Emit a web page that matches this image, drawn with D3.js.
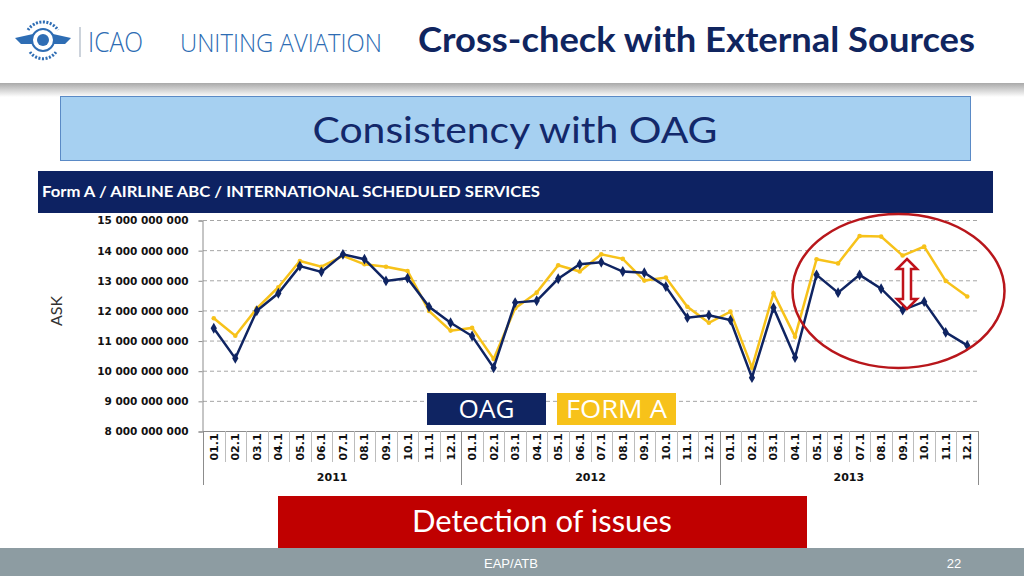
<!DOCTYPE html>
<html><head><meta charset="utf-8">
<script src="https://cdn.jsdelivr.net/npm/d3@7"></script>
<style>body{margin:0;background:#fff;}svg{display:block;}</style>
</head><body>
<svg id="c" width="1024" height="576"></svg>
<script>
const months = ["01.1","02.1","03.1","04.1","05.1","06.1","07.1","08.1","09.1","10.1","11.1","12.1"];
const years = ["2011","2012","2013"];
const oag = [11.41,10.41,11.99,12.57,13.47,13.28,13.86,13.70,12.98,13.07,12.12,11.59,
             11.15,10.10,12.26,12.32,13.05,13.53,13.60,13.29,13.25,12.79,11.76,11.84,
             11.68,9.77,12.09,10.44,13.18,12.59,13.18,12.72,12.01,12.29,11.27,10.84];
const formA = [11.74,11.16,12.07,12.77,13.64,13.45,13.81,13.53,13.45,13.31,11.98,11.33,
               11.42,10.39,12.07,12.59,13.50,13.29,13.86,13.71,12.99,13.09,12.12,11.59,
               11.96,10.10,12.57,11.13,13.70,13.56,14.47,14.45,13.82,14.12,12.98,12.46];
const yTicks = [8,9,10,11,12,13,14,15];
const seriesNames = ["OAG","FORM A"];

const svg = d3.select("#c");
const NAVY = "#0f2462", YEL = "#f7c21a";

// header
const defs = svg.append("defs");
const g1 = defs.append("linearGradient").attr("id","hg").attr("x1",0).attr("x2",0).attr("y1",0).attr("y2",1);
g1.append("stop").attr("offset","0").attr("stop-color","#a9a9a9");
g1.append("stop").attr("offset","1").attr("stop-color","#ffffff");
svg.append("rect").attr("x",0).attr("y",83).attr("width",1024).attr("height",14).attr("fill","url(#hg)");

// logo emblem
const lg = svg.append("g").attr("transform","translate(43,40)");
lg.append("path").attr("d","M-28,-2 L-10,-6 L-10,4 L-22,4 Z M28,-2 L10,-6 L10,4 L22,4 Z").attr("fill","#2e6db4");
lg.append("circle").attr("r",11).attr("fill","none").attr("stroke","#2e6db4").attr("stroke-width",2);
lg.append("circle").attr("r",6).attr("fill","#2e6db4");
lg.append("path").attr("d","M-15,-10 A18,18 0 0 1 15,-10").attr("fill","none").attr("stroke","#2e6db4").attr("stroke-width",3).attr("stroke-dasharray","2,1.5");
lg.append("path").attr("d","M-13,12 A16,16 0 0 0 13,12").attr("fill","none").attr("stroke","#2e6db4").attr("stroke-width",3).attr("stroke-dasharray","2,1.5");
svg.append("line").attr("x1",80).attr("x2",80).attr("y1",27).attr("y2",57).attr("stroke","#9aa7b8").attr("stroke-width",1);
svg.append("text").attr("x",88).attr("y",52).attr("font-family","Open Sans").attr("font-weight",300)
  .attr("font-size",27).attr("fill","#2d6cb3").attr("textLength",55).attr("lengthAdjust","spacingAndGlyphs").text("ICAO");
svg.append("text").attr("x",180).attr("y",52).attr("font-family","Open Sans").attr("font-weight",300)
  .attr("font-size",26).attr("fill","#2d6cb3").attr("textLength",202).attr("lengthAdjust","spacingAndGlyphs").text("UNITING AVIATION");
svg.append("text").attr("x",418).attr("y",52).attr("font-family","Lato").attr("font-weight",700)
  .attr("font-size",34).attr("fill","#10255f").attr("textLength",557).attr("lengthAdjust","spacingAndGlyphs").text("Cross-check with External Sources");

// subtitle box
svg.append("rect").attr("x",60.5).attr("y",96.5).attr("width",910).attr("height",64).attr("fill","#a6d0f1").attr("stroke","#5a8ac6");
svg.append("text").attr("x",515).attr("y",143).attr("text-anchor","middle").attr("font-family","Lato")
  .attr("font-size",37).attr("fill","#13286a").attr("textLength",405).attr("lengthAdjust","spacingAndGlyphs").text("Consistency with OAG");

// chart title bar
svg.append("rect").attr("x",38).attr("y",171).attr("width",955).attr("height",42).attr("fill","#0d2262");
svg.append("text").attr("x",42).attr("y",197).attr("font-family","Lato").attr("font-weight",700)
  .attr("font-size",15).attr("fill","#fff").attr("textLength",498).attr("lengthAdjust","spacingAndGlyphs")
  .text("Form A / AIRLINE ABC / INTERNATIONAL SCHEDULED SERVICES");

// scales
const cats = [];
years.forEach(y => months.forEach(m => cats.push(y+"-"+m)));
const x = d3.scaleBand().domain(cats).range([203,978]);
const y = d3.scaleLinear().domain([8,15]).range([431,220]);

// gridlines
svg.append("g").selectAll("line").data(yTicks.slice(1)).join("line")
  .attr("x1",203).attr("x2",978).attr("y1",d=>y(d)+0.5).attr("y2",d=>y(d)+0.5)
  .attr("stroke","#a6a6a6").attr("stroke-dasharray","4,3").attr("stroke-width",1);

// y axis
const ya = svg.append("g").attr("transform","translate(202.5,0.5)")
  .call(d3.axisLeft(y).tickValues(yTicks).tickSize(4).tickPadding(10)
    .tickFormat(d => d3.format(",")(d*1e9).replace(/,/g," ")));
ya.select(".domain").attr("stroke","#8c8c8c");
ya.selectAll(".tick line").attr("stroke","#8c8c8c");
ya.selectAll("text").attr("font-family","DejaVu Sans").attr("font-weight",700).attr("font-size",10.5).attr("fill","#111");
svg.append("text").attr("transform","translate(62,311) rotate(-90)").attr("text-anchor","middle")
  .attr("font-family","Lato").attr("font-size",16).attr("fill","#333").text("ASK");

// x axis
svg.append("line").attr("x1",203).attr("x2",978).attr("y1",431.5).attr("y2",431.5).attr("stroke","#8c8c8c");
const xt = svg.append("g");
cats.forEach((c,i)=>{
  const xl = x(c);
  if (i>0 && i%12!==0) xt.append("line").attr("x1",Math.round(xl)+0.5).attr("x2",Math.round(xl)+0.5).attr("y1",431).attr("y2",462).attr("stroke","#bdbdbd");
  xt.append("text").attr("transform",`translate(${xl+x.bandwidth()/2+4},447) rotate(-90)`)
    .attr("text-anchor","middle").attr("font-family","DejaVu Sans").attr("font-weight",700)
    .attr("font-size",11).attr("fill","#111").text(c.split("-")[1]);
});
[0,12,24,36].forEach(i=>{
  const xl = i<36 ? x(cats[i]) : 978;
  xt.append("line").attr("x1",Math.round(xl)+0.5).attr("x2",Math.round(xl)+0.5).attr("y1",431).attr("y2",485).attr("stroke","#8c8c8c");
});
years.forEach((yr,k)=>{
  const x0 = x(cats[k*12]), x1 = k<2 ? x(cats[k*12+12]) : 978;
  xt.append("text").attr("x",(x0+x1)/2).attr("y",481).attr("text-anchor","middle").attr("font-family","DejaVu Sans")
    .attr("font-weight",700).attr("font-size",11).attr("fill","#111").text(yr);
});

// lines
const line = d3.line().x((d,i)=>x(cats[i])+x.bandwidth()/2).y(d=>y(d));
svg.append("path").datum(formA).attr("d",line).attr("fill","none").attr("stroke",YEL).attr("stroke-width",2.5);
svg.append("g").selectAll("circle").data(formA).join("circle")
  .attr("cx",(d,i)=>x(cats[i])+x.bandwidth()/2).attr("cy",d=>y(d)).attr("r",2.3).attr("fill",YEL);
svg.append("path").datum(oag).attr("d",line).attr("fill","none").attr("stroke",NAVY).attr("stroke-width",2.5);
svg.append("g").selectAll("path").data(oag).join("path")
  .attr("transform",(d,i)=>`translate(${x(cats[i])+x.bandwidth()/2},${y(d)})`)
  .attr("d",d3.symbol(d3.symbolDiamond,34)).attr("fill",NAVY);

// legend
const legX = [427,557];
const legW = [56,101];
seriesNames.forEach((n,i)=>{
  svg.append("rect").attr("x",legX[i]).attr("y",393).attr("width",119).attr("height",32).attr("fill",i?YEL:NAVY);
  svg.append("text").attr("x",legX[i]+59.5).attr("y",418).attr("text-anchor","middle").attr("font-family","Open Sans")
    .attr("font-size",25).attr("fill","#fff").attr("textLength",legW[i]).attr("lengthAdjust","spacingAndGlyphs").text(n);
});

// annotation ellipse + arrow
svg.append("ellipse").attr("cx",898.5).attr("cy",291).attr("rx",106).attr("ry",77)
  .attr("fill","none").attr("stroke","#b8161b").attr("stroke-width",2.5);
const ax = 907, at = 259, ab = 309;
svg.append("path").attr("d",`M${ax},${at} L${ax+10},${at+10} L${ax+4},${at+10} L${ax+4},${ab-10} L${ax+10},${ab-10} L${ax},${ab} L${ax-10},${ab-10} L${ax-4},${ab-10} L${ax-4},${at+10} L${ax-10},${at+10} Z`)
  .attr("fill","#fff").attr("stroke","#c0121b").attr("stroke-width",2.5).attr("stroke-linejoin","miter");

// detection box
svg.append("rect").attr("x",278).attr("y",496).attr("width",529).attr("height",52).attr("fill","#c00000");
svg.append("text").attr("x",542).attr("y",532).attr("text-anchor","middle").attr("font-family","Lato")
  .attr("font-size",30).attr("fill","#fff").attr("textLength",260).attr("lengthAdjust","spacingAndGlyphs").text("Detection of issues");

// footer
svg.append("rect").attr("x",0).attr("y",548).attr("width",1024).attr("height",28).attr("fill","#8d9ca2");
svg.append("text").attr("x",511).attr("y",568).attr("text-anchor","middle").attr("font-family","Liberation Sans")
  .attr("font-size",13).attr("fill","#fff").text("EAP/ATB");
svg.append("text").attr("x",954).attr("y",568).attr("text-anchor","middle").attr("font-family","Liberation Sans")
  .attr("font-size",13).attr("fill","#fff").text("22");
</script>
</body></html>
